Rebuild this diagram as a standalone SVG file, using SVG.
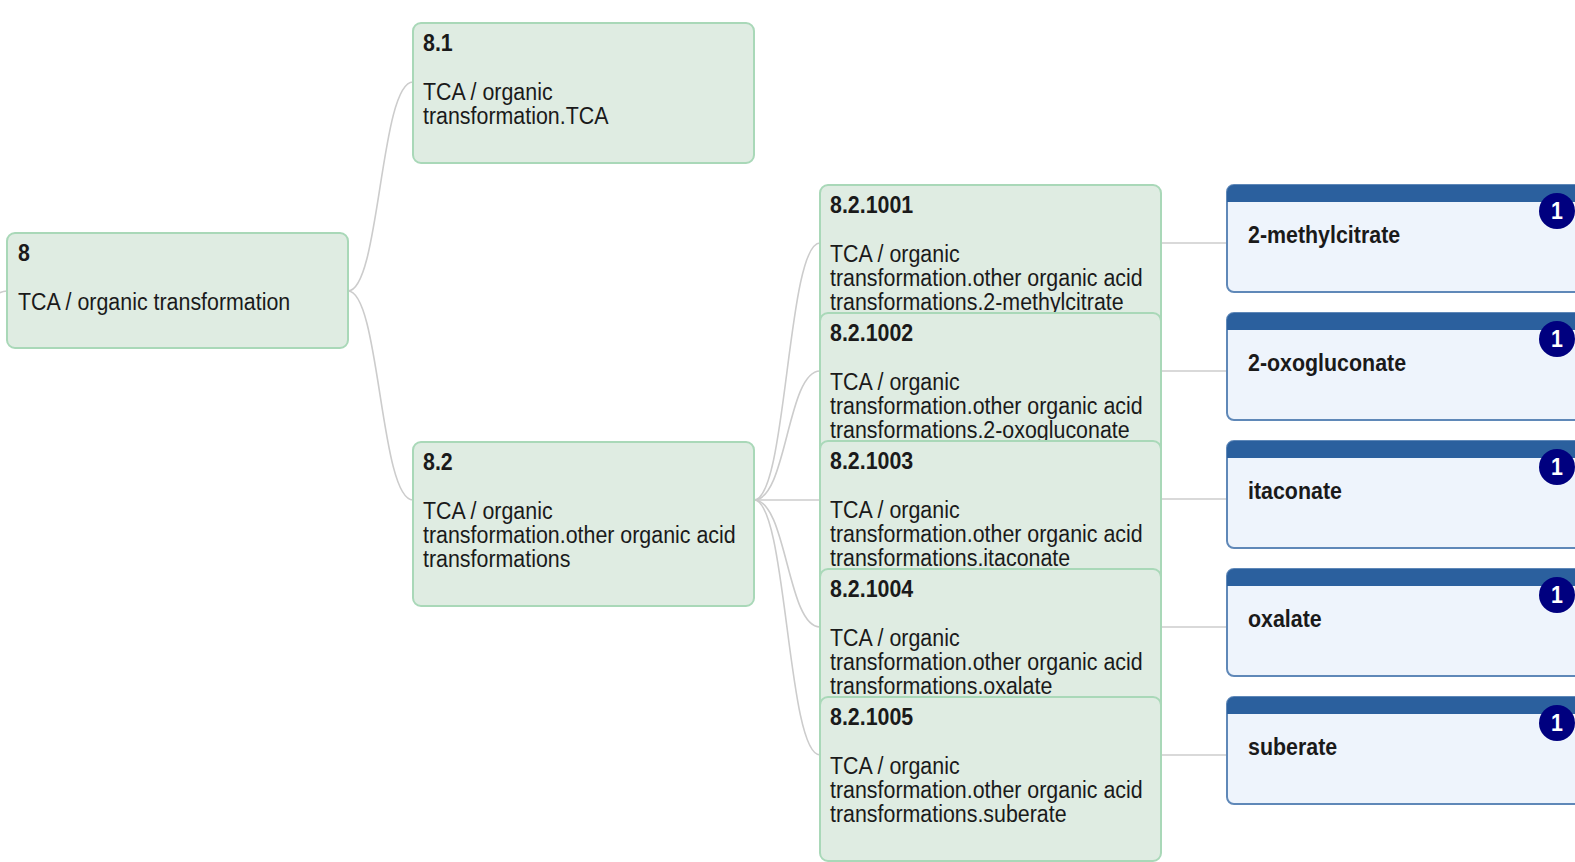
<svg xmlns="http://www.w3.org/2000/svg" width="1575" height="862" viewBox="0 0 1575 862">
<style>
.box{fill:#dfece2;stroke:#a9d8b8;stroke-width:2}
.leaf{fill:#eef4fc;stroke:#5f88b8;stroke-width:2}
.bar{fill:#2b609e}
.badge{fill:#00007f}
.h{font-family:"Liberation Sans",Arial,sans-serif;font-size:21.4px;font-weight:bold;fill:#1a1a1a}
.b{font-family:"Liberation Sans",Arial,sans-serif;font-size:21.4px;fill:#1a1a1a}
.bt{font-family:"Liberation Sans",Arial,sans-serif;font-size:21.4px;font-weight:bold;fill:#ffffff;text-anchor:middle}
.link{fill:none;stroke:#cccccc;stroke-width:1.6}
</style>
<rect width="1575" height="862" fill="#ffffff"/>
<g id="connectors">
<path class="link" d="M7,291 C-25,291 -25,380 -60,380"/>
<path class="link" d="M348,291 C380,291 380,82 413,82"/>
<path class="link" d="M348,291 C380,291 380,500 413,500"/>
<path class="link" d="M754,500 C787,500 787,243 820,243"/>
<path class="link" d="M754,500 C787,500 787,371 820,371"/>
<path class="link" d="M754,500 L820,500"/>
<path class="link" d="M754,500 C787,500 787,627 820,627"/>
<path class="link" d="M754,500 C787,500 787,755 820,755"/>
<path class="link" d="M1161,243 L1227,243"/>
<path class="link" d="M1161,371 L1227,371"/>
<path class="link" d="M1161,499 L1227,499"/>
<path class="link" d="M1161,627 L1227,627"/>
<path class="link" d="M1161,755 L1227,755"/>
</g>
<g id="n8">
<rect class="box" x="7" y="233" width="341" height="115" rx="8"/>
<text class="h" transform="translate(18,261) scale(1,1.1)">8</text>
<text class="b" transform="translate(18,310) scale(1,1.1)">TCA / organic transformation</text>
</g>
<g id="n8_1">
<rect class="box" x="413" y="23" width="341" height="140" rx="8"/>
<text class="h" transform="translate(423,51) scale(1,1.1)">8.1</text>
<text class="b" transform="translate(423,100) scale(1,1.1)"><tspan x="0" y="0">TCA / organic</tspan><tspan x="0" y="21.8">transformation.TCA</tspan></text>
</g>
<g id="n8_2">
<rect class="box" x="413" y="442" width="341" height="164" rx="8"/>
<text class="h" transform="translate(423,470) scale(1,1.1)">8.2</text>
<text class="b" transform="translate(423,519) scale(1,1.1)"><tspan x="0" y="0">TCA / organic</tspan><tspan x="0" y="21.8">transformation.other organic acid</tspan><tspan x="0" y="43.6">transformations</tspan></text>
</g>
<g id="n8_2_1001">
<rect class="box" x="820" y="185" width="341" height="164" rx="8"/>
<text class="h" transform="translate(830,213) scale(1,1.1)">8.2.1001</text>
<text class="b" transform="translate(830,262) scale(1,1.1)"><tspan x="0" y="0">TCA / organic</tspan><tspan x="0" y="21.8">transformation.other organic acid</tspan><tspan x="0" y="43.6">transformations.2-methylcitrate</tspan></text>
</g>
<g id="n8_2_1002">
<rect class="box" x="820" y="313" width="341" height="164" rx="8"/>
<text class="h" transform="translate(830,341) scale(1,1.1)">8.2.1002</text>
<text class="b" transform="translate(830,390) scale(1,1.1)"><tspan x="0" y="0">TCA / organic</tspan><tspan x="0" y="21.8">transformation.other organic acid</tspan><tspan x="0" y="43.6">transformations.2-oxogluconate</tspan></text>
</g>
<g id="n8_2_1003">
<rect class="box" x="820" y="441" width="341" height="164" rx="8"/>
<text class="h" transform="translate(830,469) scale(1,1.1)">8.2.1003</text>
<text class="b" transform="translate(830,518) scale(1,1.1)"><tspan x="0" y="0">TCA / organic</tspan><tspan x="0" y="21.8">transformation.other organic acid</tspan><tspan x="0" y="43.6">transformations.itaconate</tspan></text>
</g>
<g id="n8_2_1004">
<rect class="box" x="820" y="569" width="341" height="164" rx="8"/>
<text class="h" transform="translate(830,597) scale(1,1.1)">8.2.1004</text>
<text class="b" transform="translate(830,646) scale(1,1.1)"><tspan x="0" y="0">TCA / organic</tspan><tspan x="0" y="21.8">transformation.other organic acid</tspan><tspan x="0" y="43.6">transformations.oxalate</tspan></text>
</g>
<g id="n8_2_1005">
<rect class="box" x="820" y="697" width="341" height="164" rx="8"/>
<text class="h" transform="translate(830,725) scale(1,1.1)">8.2.1005</text>
<text class="b" transform="translate(830,774) scale(1,1.1)"><tspan x="0" y="0">TCA / organic</tspan><tspan x="0" y="21.8">transformation.other organic acid</tspan><tspan x="0" y="43.6">transformations.suberate</tspan></text>
</g>
<g id="leaf1">
<rect class="leaf" x="1227" y="185" width="420" height="107" rx="7"/>
<path class="bar" d="M1227,202 V192 A7,7 0 0 1 1234,185 H1647 V202 Z"/>
<text class="h" transform="translate(1248,243) scale(1,1.1)">2-methylcitrate</text>
<circle class="badge" cx="1557" cy="211" r="18"/>
<text class="bt" transform="translate(1557,219) scale(1,1.1)">1</text>
</g>
<g id="leaf2">
<rect class="leaf" x="1227" y="313" width="420" height="107" rx="7"/>
<path class="bar" d="M1227,330 V320 A7,7 0 0 1 1234,313 H1647 V330 Z"/>
<text class="h" transform="translate(1248,371) scale(1,1.1)">2-oxogluconate</text>
<circle class="badge" cx="1557" cy="339" r="18"/>
<text class="bt" transform="translate(1557,347) scale(1,1.1)">1</text>
</g>
<g id="leaf3">
<rect class="leaf" x="1227" y="441" width="420" height="107" rx="7"/>
<path class="bar" d="M1227,458 V448 A7,7 0 0 1 1234,441 H1647 V458 Z"/>
<text class="h" transform="translate(1248,499) scale(1,1.1)">itaconate</text>
<circle class="badge" cx="1557" cy="467" r="18"/>
<text class="bt" transform="translate(1557,475) scale(1,1.1)">1</text>
</g>
<g id="leaf4">
<rect class="leaf" x="1227" y="569" width="420" height="107" rx="7"/>
<path class="bar" d="M1227,586 V576 A7,7 0 0 1 1234,569 H1647 V586 Z"/>
<text class="h" transform="translate(1248,627) scale(1,1.1)">oxalate</text>
<circle class="badge" cx="1557" cy="595" r="18"/>
<text class="bt" transform="translate(1557,603) scale(1,1.1)">1</text>
</g>
<g id="leaf5">
<rect class="leaf" x="1227" y="697" width="420" height="107" rx="7"/>
<path class="bar" d="M1227,714 V704 A7,7 0 0 1 1234,697 H1647 V714 Z"/>
<text class="h" transform="translate(1248,755) scale(1,1.1)">suberate</text>
<circle class="badge" cx="1557" cy="723" r="18"/>
<text class="bt" transform="translate(1557,731) scale(1,1.1)">1</text>
</g>
</svg>
